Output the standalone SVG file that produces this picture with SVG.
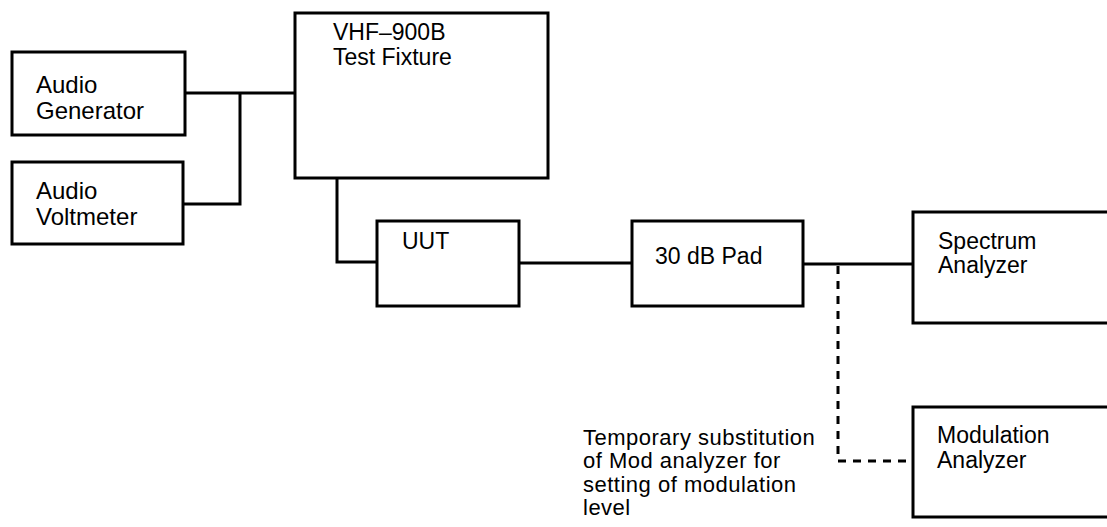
<svg xmlns="http://www.w3.org/2000/svg" width="1107" height="527" viewBox="0 0 1107 527">
<style>
.box{fill:#fff;stroke:#000;stroke-width:3}
.ln{fill:none;stroke:#000;stroke-width:3}
.dash{fill:none;stroke:#000;stroke-width:3;stroke-dasharray:8 7}
text{font-family:"Liberation Sans",Arial,sans-serif;fill:#000}
.t{font-size:23px}
.tl{font-size:24px}
.n{font-size:22px;letter-spacing:0.5px}
</style>
<rect width="1107" height="527" fill="#fff"/>
<g id="connectors">
<polyline class="ln" points="185,93 295,93"/>
<polyline class="ln" points="240,93 240,204 183,204"/>
<polyline class="ln" points="337,178 337,262 377,262"/>
<polyline class="ln" points="519,263 632,263"/>
<polyline class="ln" points="803,264 913,264"/>
<polyline class="dash" points="838,266 838,461 913,461"/>
</g>
<g id="audio-generator">
<rect class="box" x="12" y="52" width="173" height="83"/>
<text class="tl" x="36" y="93">Audio</text>
<text class="tl" x="36" y="119">Generator</text>
</g>
<g id="audio-voltmeter">
<rect class="box" x="12" y="162" width="171" height="82"/>
<text class="tl" x="36" y="199">Audio</text>
<text class="tl" x="36" y="225">Voltmeter</text>
</g>
<g id="vhf-test-fixture">
<rect class="box" x="295" y="13" width="253" height="165"/>
<text class="t" x="333" y="40">VHF–900B</text>
<text class="t" x="333" y="65">Test Fixture</text>
</g>
<g id="uut">
<rect class="box" x="377" y="221" width="142" height="85"/>
<text class="t" x="402" y="249">UUT</text>
</g>
<g id="pad">
<rect class="box" x="632" y="221" width="171" height="85"/>
<text class="t" x="655" y="264">30 dB Pad</text>
</g>
<g id="spectrum-analyzer">
<rect class="box" x="913" y="212" width="200" height="111"/>
<text class="t" x="938" y="249">Spectrum</text>
<text class="t" x="938" y="273">Analyzer</text>
</g>
<g id="modulation-analyzer">
<rect class="box" x="913" y="407" width="200" height="110"/>
<text class="t" x="937" y="443">Modulation</text>
<text class="t" x="937" y="468">Analyzer</text>
</g>
<g id="note">
<text class="n" x="583" y="445">Temporary substitution</text>
<text class="n" x="583" y="468">of Mod analyzer for</text>
<text class="n" x="583" y="492">setting of modulation</text>
<text class="n" x="583" y="515">level</text>
</g>
</svg>
